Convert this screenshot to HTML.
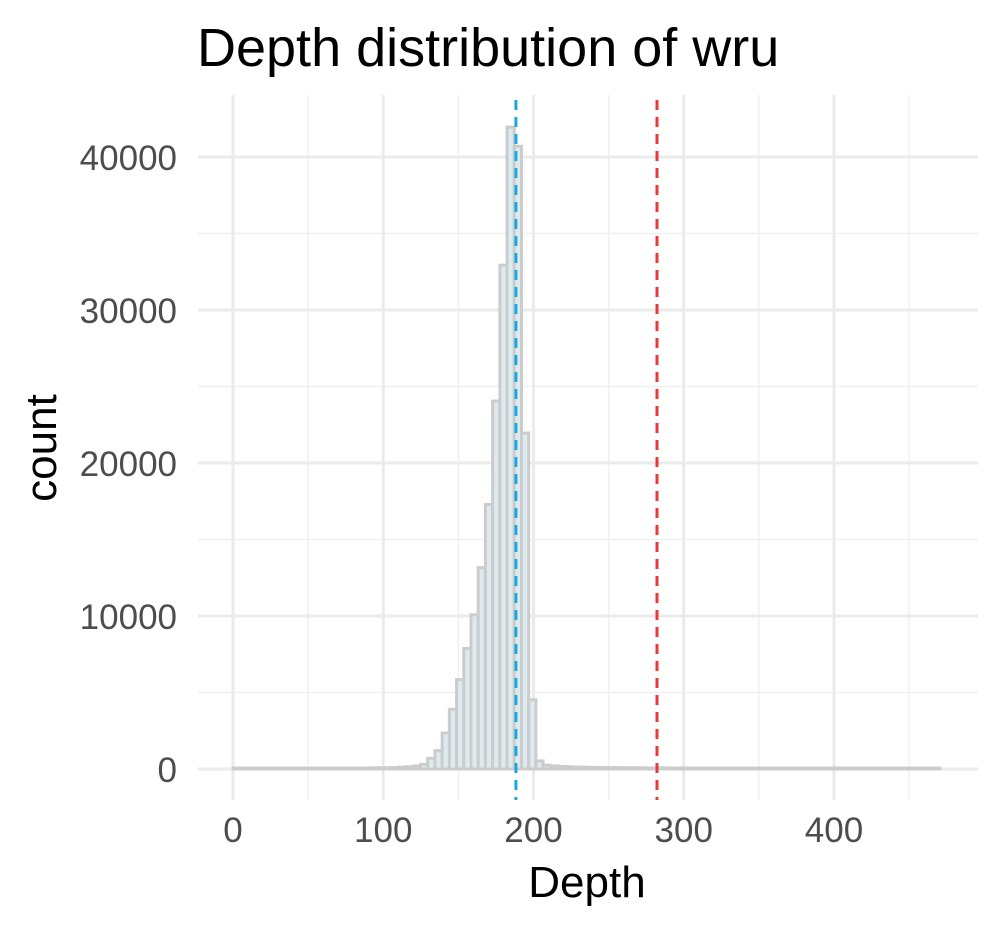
<!DOCTYPE html>
<html><head><meta charset="utf-8"><style>
body{margin:0;background:#fff}
svg text{font-family:"Liberation Sans",Arial,sans-serif}
</style></head><body>
<svg id="chart" width="1000" height="930">
<rect width="1000" height="930" fill="#fff"/>
<g id="grid"></g>
<g id="bars"></g>
<g id="vlines"></g>
<g id="axes"></g>
<text x="197" y="66" font-size="54" fill="#000">Depth distribution of wru</text>
<text x="587" y="897" font-size="44" text-anchor="middle" fill="#000">Depth</text>
<text transform="translate(56,448) rotate(-90)" font-size="44" text-anchor="middle" fill="#000">count</text>
</svg>
<script>
const binStart = 0;
const binWidth = 4.8;
const counts = [60,60,60,60,60,60,60,60,60,60,60,60,60,60,60,60,60,60,60,80,80,80,100,120,150,200,300,700,1200,2350,3900,5840,7880,10080,13160,17290,24050,32930,41950,40700,21960,4520,530,250,200,170,150,130,120,110,100,100,90,90,80,80,80,70,70,70,70,60,60,60,60,60,60,60,60,60,60,60,60,60,60,60,60,60,60,60,60,60,60,60,60,60,60,60,60,60,60,60,60,60,60,60,60,60];
const xTicks = [0,100,200,300,400];
const xMinor = [50,150,250,350,450];
const yTicks = [0,10000,20000,30000,40000];
const yMinor = [5000,15000,25000,35000];
const meanDepth = 188.3;
const cutoffDepth = 282.2;

const X = v => 233 + v*1.5025;
const Y = v => 769 - v*0.0153;
const NS = "http://www.w3.org/2000/svg";
function mk(tag, attrs, parent){const e=document.createElementNS(NS,tag);for(const k in attrs)e.setAttribute(k,attrs[k]);parent.appendChild(e);return e;}
const grid=document.getElementById('grid'), bars=document.getElementById('bars'), vl=document.getElementById('vlines'), ax=document.getElementById('axes');
const L=198,R=978,T=95,B=800;
xMinor.forEach(v=>{if(X(v)<R){const l=mk('line',{x1:X(v),x2:X(v),y1:T,y2:B,stroke:'#f0f0f0','stroke-width':1.5},grid);

}});
yMinor.forEach(v=>{const l=mk('line',{x1:L,x2:R,y1:Y(v),y2:Y(v),stroke:'#f0f0f0','stroke-width':1.5},grid);

});
xTicks.forEach(v=>{const l=mk('line',{x1:X(v),x2:X(v),y1:T,y2:B,stroke:'#ebebeb','stroke-width':3},grid);


const t=mk('text',{x:X(v),y:842,'font-size':35,'text-anchor':'middle',fill:'#4d4d4d'},ax);t.textContent=v;

});
yTicks.forEach(v=>{const l=mk('line',{x1:L,x2:R,y1:Y(v),y2:Y(v),stroke:'#ebebeb','stroke-width':3},grid);


const t=mk('text',{x:177,y:Y(v)+13,'font-size':35,'text-anchor':'end',fill:'#4d4d4d'},ax);t.textContent=v;

});
counts.forEach((c,i)=>{const x0=X(binStart+i*binWidth), x1=X(binStart+(i+1)*binWidth);
const r=mk('rect',{x:x0,y:Y(c),width:x1-x0,height:Math.max(Y(0)-Y(c),0.1),fill:'#dbebf0',stroke:'#cccccc','stroke-width':3},bars);

});
const b=mk('line',{x1:X(meanDepth),x2:X(meanDepth),y1:T+5,y2:B,stroke:'#1ba6e0','stroke-width':3,'stroke-dasharray':'10,7'},vl);


const r=mk('line',{x1:X(cutoffDepth),x2:X(cutoffDepth),y1:T+5,y2:B,stroke:'#e8393b','stroke-width':3,'stroke-dasharray':'10,7'},vl);


</script>
</body></html>
